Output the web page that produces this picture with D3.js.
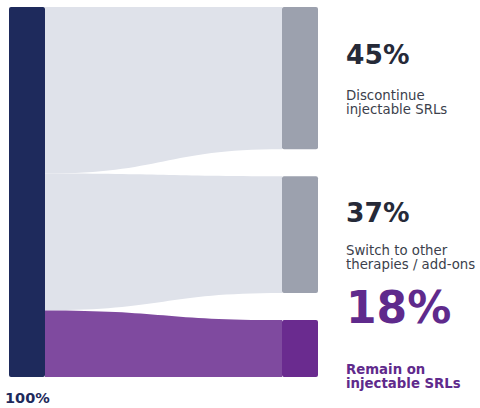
<!DOCTYPE html>
<html>
<head>
<meta charset="utf-8">
<script src="https://cdn.jsdelivr.net/npm/d3@7"></script>
<style>
  body { margin: 0; background: #fff; }
  svg { display: block; font-family: "DejaVu Sans", sans-serif; }
</style>
</head>
<body>
<svg width="480" height="408"></svg>
<script>
  // outcome categories and shares (%)
  const outcomes = ['Discontinue', 'Switch', 'Remain'];
  const shares = [45, 37, 18];
  const pctLabels = ['45%', '37%', '18%'];
  const descLines = [
    ['Discontinue', 'injectable SRLs'],
    ['Switch to other', 'therapies / add-ons'],
    ['Remain on', 'injectable SRLs']
  ];
  const sourceLabel = '100%';

  const svg = d3.select('svg');
  const yTop = 7, yBottom = 377, gap = 27;
  const nodeW = 36;
  const leftX = 9, rightX = 282;

  const total = d3.sum(shares);
  // left: one full bar, flows stacked
  const yLeft = d3.scaleLinear().domain([0, total]).range([yTop, yBottom]);
  // right: nodes separated by gaps
  const usable = (yBottom - yTop) - gap * (shares.length - 1);
  const hRight = d3.scaleLinear().domain([0, total]).range([0, usable]);

  const cum = d3.cumsum(shares);
  const items = outcomes.map((k, i) => {
    const before = i ? cum[i - 1] : 0;
    const ry0 = yTop + hRight(before) + gap * i;
    return {
      key: k,
      l0: yLeft(before), l1: yLeft(cum[i]),
      r0: ry0, r1: ry0 + hRight(shares[i])
    };
  });

  const linkFill = ['#dfe2ea', '#dfe2ea', '#7f4a9f'];
  const nodeFill = ['#9ca1ae', '#9ca1ae', '#6a2b8f'];

  const x0 = leftX + nodeW, x1 = rightX, xm = (x0 + x1) / 2;
  const linkPath = d => {
    const p = d3.path();
    p.moveTo(x0, d.l0);
    p.bezierCurveTo(xm, d.l0, xm, d.r0, x1, d.r0);
    p.lineTo(x1, d.r1);
    p.bezierCurveTo(xm, d.r1, xm, d.l1, x0, d.l1);
    p.closePath();
    return p.toString();
  };

  svg.append('g').selectAll('path')
    .data(items)
    .join('path')
    .attr('d', linkPath)
    .attr('fill', (d, i) => linkFill[i]);

  // source node
  svg.append('rect')
    .attr('x', leftX).attr('y', yTop)
    .attr('width', nodeW).attr('height', yBottom - yTop)
    .attr('rx', 2)
    .attr('fill', '#1e2a5c');

  // target nodes
  svg.append('g').selectAll('rect')
    .data(items)
    .join('rect')
    .attr('x', rightX).attr('y', d => d.r0)
    .attr('width', nodeW).attr('height', d => d.r1 - d.r0)
    .attr('rx', 2)
    .attr('fill', (d, i) => nodeFill[i]);

  // labels
  const tx = 346;
  const labelPos = [
    { pct: 64, desc: 100, size: 26.5, color: '#262a38', descColor: '#3c3f4c', bold: false },
    { pct: 222, desc: 255, size: 26.5, color: '#262a38', descColor: '#3c3f4c', bold: false },
    { pct: 323, desc: 374, size: 44, color: '#5f2a8c', descColor: '#5f2a8c', bold: true }
  ];

  labelPos.forEach((p, i) => {
    svg.append('text')
      .attr('x', tx).attr('y', p.pct)
      .attr('font-size', p.size)
      .attr('font-weight', 'bold')
      .attr('fill', p.color)
      .text(pctLabels[i]);
    const t = svg.append('text')
      .attr('x', tx).attr('y', p.desc)
      .attr('font-size', 13.3)
      .attr('font-weight', p.bold ? 'bold' : 'normal')
      .attr('fill', p.descColor);
    descLines[i].forEach((line, j) => {
      t.append('tspan').attr('x', tx).attr('dy', j ? 13.5 : 0).text(line);
    });
  });

  svg.append('text')
    .attr('x', 5).attr('y', 403)
    .attr('font-size', 14.5)
    .attr('font-weight', 'bold')
    .attr('fill', '#1e2a5c')
    .text(sourceLabel);
</script>
</body>
</html>
